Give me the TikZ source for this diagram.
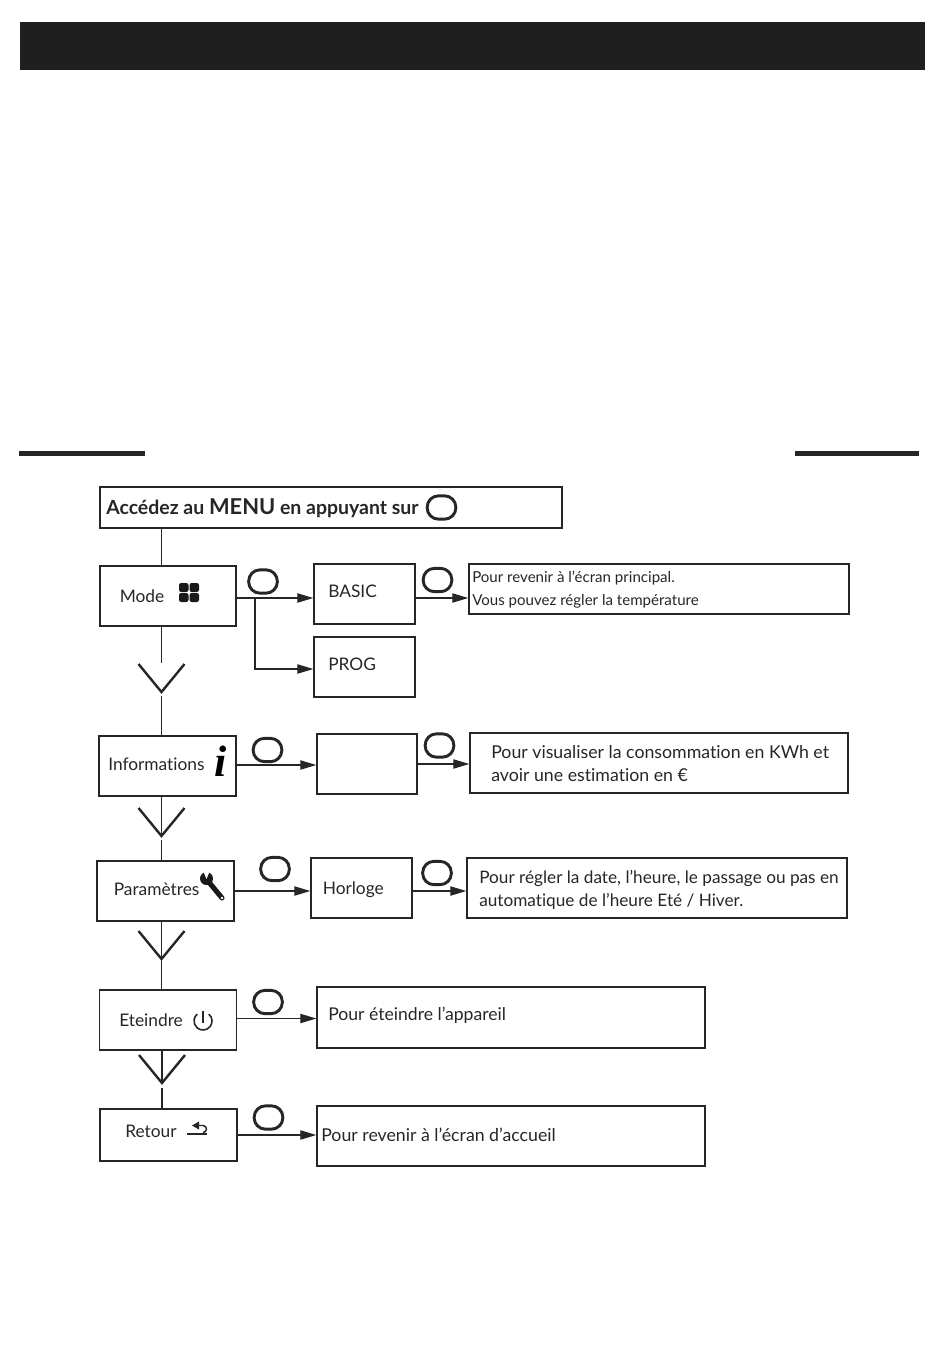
\documentclass[tikz,border=0pt]{standalone}
\usepackage{fontspec}
\setmainfont{Lato}[Ligatures=CommonOff]
\usepackage{tikz}
\usetikzlibrary{positioning,arrows.meta,calc}

\begin{document}
\begin{tikzpicture}[
  x=0.75pt,y=-0.75pt,
  font=\fontsize{13}{15}\selectfont,
  box/.style={draw=black!85,line width=1.1pt,inner sep=0pt},
  lab/.style={inner sep=0pt,anchor=base west,text=black!85},
  btn/.style={draw=black!85,line width=2.2pt,rounded corners=8.5pt,inner sep=0pt,
              minimum width=21.5pt,minimum height=17.5pt},
  link/.style={draw=black!85,line width=0.9pt},
  arr/.style={link,-{Triangle[length=12pt,width=7pt]}},
  veeline/.style={draw=black!85,line width=1.8pt},
]
  \useasboundingbox (0,0) rectangle (950,1360);
  % banner and rules
  \fill[black!88] (20,22) rectangle (925,70);
  \fill[black!85] (19,451) rectangle (145,456);
  \fill[black!85] (795,451) rectangle (919,456);

  % left column
  \node[box,line width=1.5pt,minimum width=346.5pt,minimum height=30.75pt] (menu) at (331,507.5) {};
  \node[box,minimum width=102pt,minimum height=45pt] (mode) at (168,596) {};
  \node[box,minimum width=102.75pt,minimum height=45pt] (info) at (167.5,766) {};
  \node[box,minimum width=102.75pt,minimum height=45pt] (param) at (165.5,891) {};
  \node[box,minimum width=102.75pt,minimum height=45pt] (off) at (167.75,1020) {};
  \node[box,minimum width=102.75pt,minimum height=39pt] (back) at (168.5,1135) {};

  % second column
  \node[box,minimum width=75.75pt,minimum height=45pt] (basic) at (364.5,594) {};
  \node[box,minimum width=75.75pt,minimum height=45pt] (prog) at (364.5,667) {};
  \node[box,minimum width=75pt,minimum height=45pt] (blank) at (367,764) {};
  \node[box,minimum width=75.75pt,minimum height=45pt] (clock) at (361.5,888) {};

  % text boxes
  \node[box,minimum width=285pt,minimum height=37.5pt] (d1) at (659,589) {};
  \node[box,minimum width=283.5pt,minimum height=45pt] (d2) at (659,763) {};
  \node[box,minimum width=285pt,minimum height=45pt] (d3) at (657,888) {};
  \node[box,minimum width=291pt,minimum height=45.75pt] (d4) at (511,1017.5) {};
  \node[box,minimum width=291pt,minimum height=45pt] (d5) at (511,1136) {};

  % labels
  \node[lab,font=\fontsize{14.6}{15}\selectfont\bfseries] (menulab) at (106,514) {Accédez au {\fontsize{16.4}{15}\selectfont MENU} en appuyant sur};
  \node[lab] (modelab) at (119.5,602) {Mode};
  \node[lab] (infolab) at (108,770) {Informations};
  \node[lab] (paramlab) at (113.5,895) {Paramètres};
  \node[lab] (offlab) at (119,1026) {Eteindre};
  \node[lab] (backlab) at (125,1137) {Retour};
  \node[lab] (basiclab) at (328,597) {BASIC};
  \node[lab] (proglab) at (328,670) {PROG};
  \node[lab] (clocklab) at (322.5,894) {Horloge};
  \node[lab,font=\fontsize{11.3}{15}\selectfont] (d1a) at (472,582.5) {Pour revenir à l’écran principal.};
  \node[lab,font=\fontsize{11.3}{15}\selectfont] (d1b) at (472,605) {Vous pouvez régler la température};
  \node[lab,font=\fontsize{13.3}{15}\selectfont] (d2a) at (491,758) {Pour visualiser la consommation en KWh et};
  \node[lab,font=\fontsize{13.3}{15}\selectfont] (d2b) at (491,781) {avoir une estimation en €};
  \node[lab,font=\fontsize{12.9}{15}\selectfont] (d3a) at (479,883) {Pour régler la date, l’heure, le passage ou pas en};
  \node[lab,font=\fontsize{12.9}{15}\selectfont] (d3b) at (479,906) {automatique de l’heure Eté / Hiver.};
  \node[lab,font=\fontsize{13.2}{15}\selectfont] (d4a) at (328,1020) {Pour éteindre l’appareil};
  \node[lab,font=\fontsize{13.3}{15}\selectfont] (d5a) at (321,1141) {Pour revenir à l’écran d’accueil};

  % buttons
  \node[btn] (b0) at (441.5,507.5) {};
  \node[btn] (b1) at (263,581.5) {};
  \node[btn] (b2) at (437.5,580) {};
  \node[btn] (b3) at (267.5,750) {};
  \node[btn] (b4) at (439.5,745.5) {};
  \node[btn] (b5) at (275,869) {};
  \node[btn] (b6) at (437,873) {};
  \node[btn] (b7) at (268,1002) {};
  \node[btn] (b8) at (268.5,1117.5) {};

  % chevrons
  \coordinate (v1) at (161.5,692);
  \coordinate (v2) at (161.5,836);
  \coordinate (v3) at (161.5,959);
  \coordinate (v4) at (162,1083);
  \foreach \v in {v1,v2,v3,v4}
    \draw[veeline] (\v) +(-23,-28) -- (\v) -- +(23,-28);

  % vertical links
  \draw[link] (menu.south -| v1) -- (mode.north -| v1);
  \draw[link] (mode.south -| v1) -- (161.5,663);
  \draw[link] (161.5,696) -- (info.north -| v1);
  \draw[link] (info.south -| v2) -- (v2);
  \draw[link] (161.5,840) -- (param.north -| v2);
  \draw[link] (param.south -| v3) -- (v3);
  \draw[link] (v3) -- (off.north -| v3);
  \draw[link] (off.south -| v4) -- (v4);
  \draw[link] (162,1088) -- (back.north -| v4);

  % horizontal links
  \coordinate (fork) at (255,598);
  \draw[arr] (mode.east |- fork) -- (basic.west |- fork);
  \draw[arr] (fork) |- (prog.west |- 0,669);
  \draw[arr] (basic.east |- fork) -- (d1.west |- fork);
  \draw[arr] (info.east |- 0,765) -- (blank.west |- 0,765);
  \draw[arr] (blank.east |- 0,764) -- (d2.west |- 0,764);
  \draw[arr] (param.east |- 0,891) -- (clock.west |- 0,891);
  \draw[arr] (clock.east |- 0,891) -- (d3.west |- 0,891);
  \draw[arr] (off.east |- 0,1018.5) -- (d4.west |- 0,1018.5);
  \draw[arr] (back.east |- 0,1135) -- (d5.west |- 0,1135);

  % icons
  \foreach \px/\py in {179/583,189.5/583,179/593,189.5/593}
    \fill[black!90,rounded corners=1.6pt] (\px,\py) rectangle +(9.5,9);
  \node[inner sep=0pt,anchor=base,font=\fontsize{33}{33}\selectfont\fontspec{Liberation Serif}\bfseries\itshape] (infoicon) at (220.5,776) {i};
  \fill[black!90] (206.5,878.5) circle (6.5);
  \fill[white] (206.5,879) -- +(-3.5,-8.5) -- +(3.5,-8.5) -- cycle;
  \draw[black!90,line width=3.8pt,line cap=round] (208,881) -- (222,898);
  \fill[white] (222,898) circle (1.3);
  \draw[black!85,line width=1.2pt] (208.8,1014.1) arc[start angle=-50,end angle=230,radius=9];
  \draw[black!85,line width=1.2pt] (203,1011) -- (203,1023);
  \fill[black!85] (187,1132.5) rectangle (207,1135);
  \draw[black!85,line width=1.1pt] (198,1125.5) -- (203,1125.5) arc[start angle=-90,end angle=90,radius=3.5];
  \fill[black!85] (192,1125.5) -- (199,1121.5) -- (199,1129.5) -- cycle;
\end{tikzpicture}
\end{document}
